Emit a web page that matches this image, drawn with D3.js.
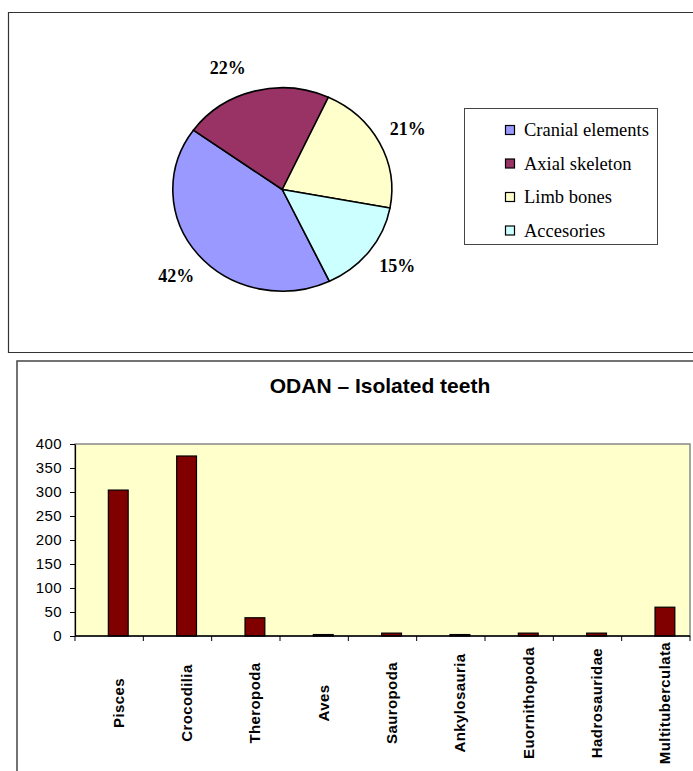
<!DOCTYPE html>
<html>
<head>
<meta charset="utf-8">
<script src="https://cdn.jsdelivr.net/npm/d3@7"></script>
<style>
  html, body { margin: 0; padding: 0; background: #fff; }
  svg { display: block; }
</style>
</head>
<body>
<svg id="chart" width="693" height="771"></svg>
<script>
// Skeletal element composition (percent of remains)
const pieCategories = ["Cranial elements", "Axial skeleton", "Limb bones", "Accesories"];
const pieValues = [42, 22, 21, 15];
const pieColors = ["#9999FF", "#993366", "#FFFFCC", "#CCFFFF"];

// ODAN isolated teeth counts per taxon
const barCategories = ["Pisces", "Crocodilia", "Theropoda", "Aves", "Sauropoda",
  "Ankylosauria", "Euornithopoda", "Hadrosauridae", "Multituberculata"];
const barValues = [304, 375, 38, 3, 6, 3, 6, 6, 60];
const yTicks = [0, 50, 100, 150, 200, 250, 300, 350, 400];
const barTitle = "ODAN \u2013 Isolated teeth";

const svg = d3.select("#chart");
const serif = "'Liberation Serif', 'Times New Roman', serif";
const sans = "'Liberation Sans', Arial, sans-serif";

// ---------- Top panel: pie chart ----------
svg.append("path")
  .attr("d", "M693,12.5 H8.5 V352.5 H693")
  .attr("fill", "none").attr("stroke", "#333").attr("stroke-width", 1.2);

const cx = 282.3, cy = 189.5, rx = 109.5, ry = 101.7;
const start = 154.5 * Math.PI / 180;
const pie = d3.pie().sort(null).value(d => d)
  .startAngle(start).endAngle(start + 2 * Math.PI);
const arcs = pie(pieValues);
const arc = d3.arc().innerRadius(0).outerRadius(rx);

const pieG = svg.append("g")
  .attr("transform", `translate(${cx},${cy}) scale(1,${ry / rx})`);
pieG.selectAll("path").data(arcs).join("path")
  .attr("d", arc)
  .attr("fill", (d, i) => pieColors[i])
  .attr("stroke", "#000")
  .attr("stroke-width", 1.6)
  .attr("vector-effect", "non-scaling-stroke")
  .attr("stroke-linejoin", "round");

// percentage labels placed outside each slice along its mid-angle
const labelNudge = [-1.5, -8, 0, -2];   // degrees, keeps labels clear of neighbours
const labelRadius = 1.29;
svg.append("g").selectAll("text").data(arcs).join("text")
  .each(function (d, i) {
    const a = (d.startAngle + d.endAngle) / 2 + labelNudge[i] * Math.PI / 180;
    d3.select(this)
      .attr("x", cx + Math.sin(a) * rx * labelRadius)
      .attr("y", cy - Math.cos(a) * ry * labelRadius);
  })
  .attr("text-anchor", "middle")
  .attr("dominant-baseline", "central")
  .attr("font-family", serif)
  .attr("font-weight", "bold")
  .attr("font-size", 18)
  .attr("fill", "#000")
  .text(d => Math.round(d.data) + "%");

// legend
const legend = svg.append("g");
legend.append("rect")
  .attr("x", 464.5).attr("y", 108.5).attr("width", 193).attr("height", 136)
  .attr("fill", "#fff").attr("stroke", "#444").attr("stroke-width", 1);
const legendRows = legend.selectAll("g.row").data(pieCategories).join("g")
  .attr("class", "row")
  .attr("transform", (d, i) => `translate(505, ${130 + i * 33.5})`);
legendRows.append("rect")
  .attr("x", 0.5).attr("y", -4.5).attr("width", 9).attr("height", 9)
  .attr("fill", (d, i) => pieColors[i])
  .attr("stroke", "#000").attr("stroke-width", 1.2);
legendRows.append("text")
  .attr("x", 19).attr("y", 0)
  .attr("dominant-baseline", "central")
  .attr("font-family", serif)
  .attr("font-size", 18.5)
  .attr("fill", "#000")
  .text(d => d);

// ---------- Bottom panel: bar chart ----------
svg.append("path")
  .attr("d", "M17,771 V361 H693")
  .attr("fill", "none").attr("stroke", "#444").attr("stroke-width", 1.5);

svg.append("text")
  .attr("x", 380).attr("y", 393)
  .attr("text-anchor", "middle")
  .attr("font-family", sans)
  .attr("font-weight", "bold")
  .attr("font-size", 21)
  .attr("fill", "#000")
  .text(barTitle);

const plot = { left: 75, right: 690, top: 444, bottom: 636 };
const x = d3.scaleBand().domain(barCategories).range([plot.left, plot.right]);
const y = d3.scaleLinear().domain([0, 400]).range([plot.bottom, plot.top]);

svg.append("rect")
  .attr("x", plot.left).attr("y", plot.top)
  .attr("width", plot.right - plot.left).attr("height", plot.bottom - plot.top)
  .attr("fill", "#FFFFCC").attr("stroke", "#888").attr("stroke-width", 1.5);

// bars sit right of the category centre (Excel cluster layout)
const bw = x.bandwidth();
const barOffset = 0.488, barWidth = 0.29;
svg.append("g").selectAll("rect").data(barValues).join("rect")
  .attr("x", (d, i) => x(barCategories[i]) + bw * barOffset)
  .attr("width", bw * barWidth)
  .attr("y", d => y(d))
  .attr("height", d => y(0) - y(d))
  .attr("fill", "#800000")
  .attr("stroke", "#000")
  .attr("stroke-width", 1.2);

// y axis
const yAxis = svg.append("g")
  .attr("transform", `translate(${plot.left},0)`)
  .call(d3.axisLeft(y).tickValues(yTicks).tickSize(5).tickPadding(8).tickSizeOuter(0));
yAxis.select(".domain").attr("stroke", "#000").attr("stroke-width", 1.2);
yAxis.selectAll(".tick line").attr("stroke", "#000");
yAxis.selectAll(".tick text")
  .attr("font-family", sans).attr("font-size", 15).attr("letter-spacing", 0.4)
  .attr("fill", "#000");

// x axis with ticks on category boundaries
const xg = svg.append("g");
xg.append("line")
  .attr("x1", plot.left).attr("x2", plot.right)
  .attr("y1", plot.bottom).attr("y2", plot.bottom)
  .attr("stroke", "#000").attr("stroke-width", 1.5);
const boundaries = barCategories.map(c => x(c)).concat([x.range()[1]]);
xg.selectAll("line.tick").data(boundaries).join("line")
  .attr("class", "tick")
  .attr("x1", d => d).attr("x2", d => d)
  .attr("y1", plot.bottom).attr("y2", plot.bottom + 5)
  .attr("stroke", "#000").attr("stroke-width", 1);

xg.selectAll("text").data(barCategories).join("text")
  .attr("transform", c => `translate(${x(c) + bw * (barOffset + barWidth / 2)},703) rotate(-90)`)
  .attr("text-anchor", "middle")
  .attr("dominant-baseline", "central")
  .attr("font-family", sans)
  .attr("font-weight", "bold")
  .attr("font-size", 15)
  .attr("letter-spacing", 0.4)
  .attr("fill", "#000")
  .text(c => c);
</script>
</body>
</html>
